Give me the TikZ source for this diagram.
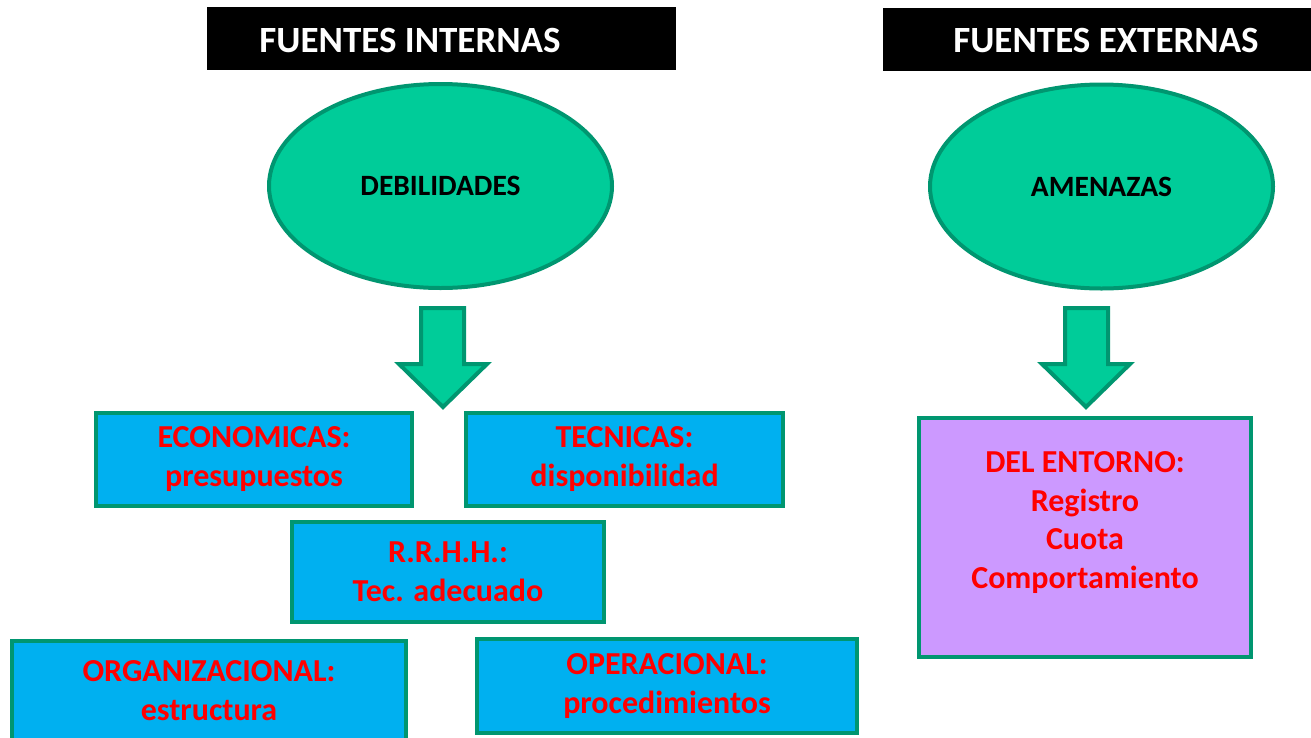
\documentclass[tikz,border=0pt]{standalone}
\usepackage{fontspec}
\setmainfont{Carlito}
\usepackage{tikz}
\usetikzlibrary{positioning,shapes.geometric}

\definecolor{verdeborde}{HTML}{009670}
\definecolor{verdefondo}{HTML}{00CC99}
\definecolor{azulcaja}{HTML}{00B0F0}
\definecolor{lilacaja}{HTML}{CC99FF}

\tikzset{
  titulo/.style={fill=black,inner sep=0pt},
  titulotxt/.style={text=white,font=\fontsize{37}{40}\selectfont\bfseries},
  fuente/.style={ellipse,draw=verdeborde,fill=verdefondo,line width=4pt,minimum width=343pt,minimum height=204pt,font=\fontsize{29.5}{32}\selectfont\bfseries},
  caja/.style={rectangle,draw=verdeborde,fill=azulcaja,line width=4pt,text=red,align=center,font=\fontsize{32}{39}\selectfont\bfseries},
  flecha/.style={draw=verdeborde,fill=verdefondo,line width=4pt,line join=miter}
}

\begin{document}
\begin{tikzpicture}[x=1pt,y=-1pt]
\useasboundingbox (0,0) rectangle (1311,737);

% encabezados
\node[titulo,minimum width=469pt,minimum height=63pt] (hint) at (441.5,38.5) {};
\node[titulotxt] (tint) at (410,40) {FUENTES INTERNAS};
\node[titulo,minimum width=428pt,minimum height=63pt] (hext) at (1097,39.5) {};
\node[titulotxt] (text) at (1106,40) {FUENTES EXTERNAS};

% elipses
\node[fuente] (deb) at (440.5,186) {DEBILIDADES};
\node[fuente] (ame) at (1101.5,186.5) {AMENAZAS};

% flechas
\draw[flecha] (421,308) -- (464,308) -- (464,364) -- (487,364) -- (443,407) -- (399,364) -- (421,364) -- cycle;
\draw[flecha] (1065,308) -- (1108,308) -- (1108,364) -- (1130,364) -- (1086,407) -- (1042,364) -- (1065,364) -- cycle;

% cajas internas
\node[caja,minimum width=316pt,minimum height=93pt] (eco) at (254,459.5) {ECONOMICAS:\\presupuestos};
\node[caja,minimum width=317pt,minimum height=93pt] (tec) at (624.5,459.5) {TECNICAS:\\disponibilidad};
\node[caja,minimum width=312pt,minimum height=100pt] (rrhh) at (448,572) {R.R.H.H.:\\Tec. adecuado};
\node[caja,minimum width=394pt,minimum height=100pt] (org) at (209,691) {ORGANIZACIONAL:\\estructura};
\node[caja,minimum width=380pt,minimum height=94pt] (ope) at (667,686) {OPERACIONAL:\\procedimientos};

% caja externa
\node[caja,fill=lilacaja,minimum width=332pt,minimum height=239pt] (ent) at (1085,537.5) {};
\node[text=red,align=center,font=\fontsize{32}{38.5}\selectfont\bfseries,anchor=north] (enttxt) at (1085,448)
  {DEL ENTORNO:\\Registro\\Cuota\\Comportamiento};

\end{tikzpicture}
\end{document}
